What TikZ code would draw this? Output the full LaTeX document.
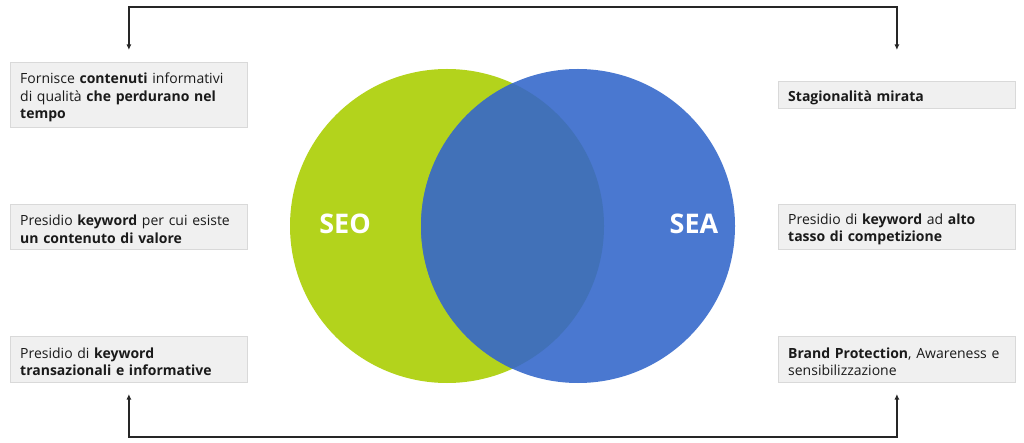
\documentclass[tikz,border=0pt]{standalone}
\usepackage{fontspec}
\setmainfont{Open Sans}
\usetikzlibrary{arrows.meta}
\definecolor{seogreen}{HTML}{B3D31C}
\definecolor{seablue}{HTML}{4A78D0}
\definecolor{overlapc}{HTML}{4171B8}
\definecolor{boxfill}{HTML}{F0F0F0}
\definecolor{boxline}{HTML}{D9D9D9}
\definecolor{ink}{HTML}{1A1A1A}
\definecolor{arrowc}{HTML}{262626}
\begin{document}
\begin{tikzpicture}[x=1pt,y=-1pt,
  infobox/.style={draw=boxline, fill=boxfill, line width=0.8pt, minimum width=237pt,
    inner sep=0pt, anchor=north west},
  infotext/.style={text width=217pt, inner xsep=10pt, inner ysep=0pt, align=left, anchor=west,
    font=\fontsize{14}{17.5}\selectfont, text=ink},
  biglabel/.style={font=\fontsize{27}{27}\selectfont\bfseries, text=white},
  conn/.style={draw=arrowc, line width=1.3pt, {Latex[length=5.5pt,width=5pt]}-{Latex[length=5.5pt,width=5pt]}}]
\useasboundingbox (0,0) rectangle (1024,443);
% Venn circles
\fill[seogreen] (447,226) circle (157pt);
\fill[seablue] (578,226) circle (157pt);
\begin{scope}
  \clip (447,226) circle (157pt);
  \fill[overlapc] (578,226) circle (157pt);
\end{scope}
\node[biglabel] (seo) at (345,224) {SEO};
\node[biglabel] (sea) at (694,224) {SEA};
% boxes
\node[infobox, minimum height=65pt] (l1) at (10,62) {};
\node[infobox, minimum height=45pt] (l2) at (10,204) {};
\node[infobox, minimum height=46pt] (l3) at (10,336) {};
\node[infobox, minimum height=27pt] (r1) at (778,81) {};
\node[infobox, minimum height=45pt] (r2) at (778,204) {};
\node[infobox, minimum height=46pt] (r3) at (778,336) {};
% texts
\node[infotext] (l1t) at ([yshift=-2.5pt]l1.west) {Fornisce \textbf{contenuti} informativi\\di qualità \textbf{che perdurano nel}\\\textbf{tempo}};
\node[infotext] (l2t) at ([yshift=-2.5pt]l2.west) {Presidio \textbf{keyword} per cui esiste\\\textbf{un contenuto di valore}};
\node[infotext] (l3t) at ([yshift=-2.5pt]l3.west) {Presidio di \textbf{keyword}\\\textbf{transazionali e informative}};
\node[infotext] (r1t) at ([yshift=-2.5pt]r1.west) {\textbf{Stagionalità mirata}};
\node[infotext] (r2t) at ([yshift=-2.5pt]r2.west) {Presidio di \textbf{keyword} ad \textbf{alto}\\\textbf{tasso di competizione}};
\node[infotext] (r3t) at ([yshift=-2.5pt]r3.west) {\textbf{Brand Protection}, Awareness e\\sensibilizzazione};
% connectors
\coordinate (tl) at (l1.north |- 0,50);
\coordinate (tr) at (r1.north |- 0,50);
\coordinate (topline) at (500,7);
\coordinate (bl) at (l3.south |- 0,394);
\coordinate (br) at (r3.south |- 0,394);
\coordinate (botline) at (500,437);
\draw[conn] (tl) |- (topline) -| (tr);
\draw[conn] (bl) |- (botline) -| (br);
\end{tikzpicture}
\end{document}
